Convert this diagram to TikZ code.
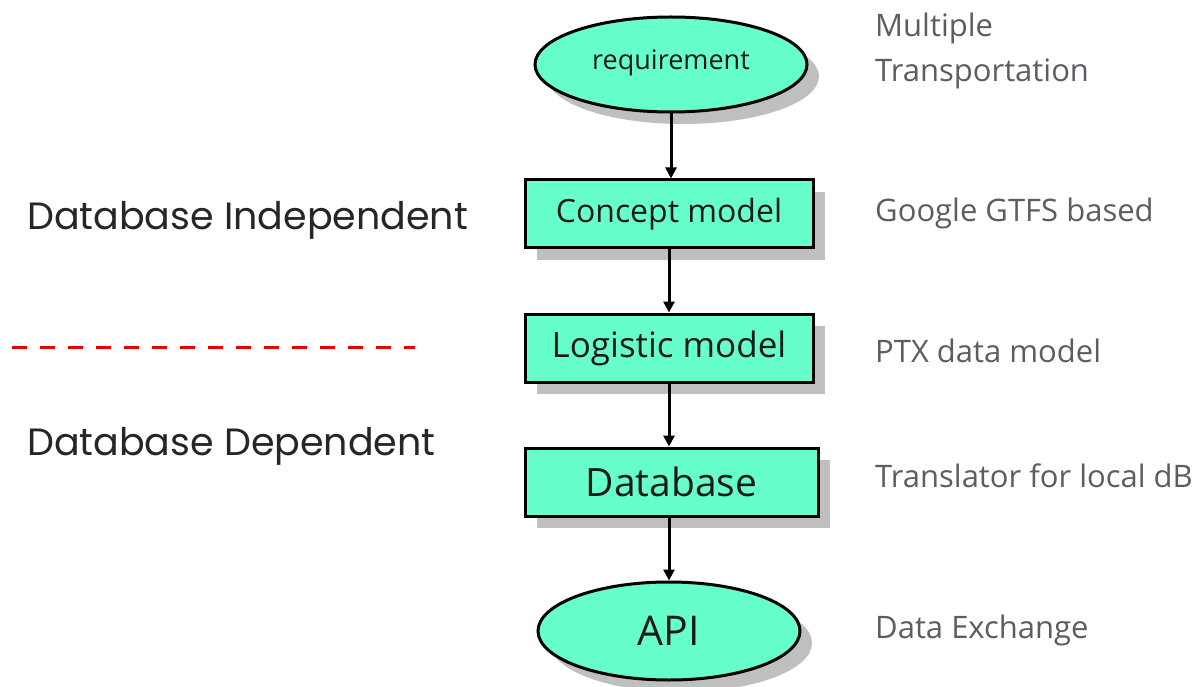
\documentclass[tikz,border=0pt]{standalone}
\usepackage{fontspec}
\setmainfont{Open Sans}
\newfontfamily\labelfont{Poppins}
\usetikzlibrary{shapes.geometric,shadows,arrows.meta}
\definecolor{mint}{HTML}{66FFCC}
\definecolor{shade}{HTML}{BFBFBF}
\definecolor{notegray}{HTML}{5A5E63}
\definecolor{divred}{HTML}{E60000}
\tikzset{
  stage/.style={draw=black, line width=3pt, fill=mint, inner sep=0pt, text=black!90,
    drop shadow={shadow xshift=12pt, shadow yshift=-12pt, fill=shade, opacity=1}},
  boxstage/.style={stage, rectangle, minimum height=68pt},
  ovalstage/.style={stage, ellipse},
  flow/.style={line width=3pt, -{Triangle[length=11pt,width=11pt]}},
  note/.style={anchor=base west, text=notegray, font=\fontsize{31}{35}\selectfont, inner sep=0pt},
  side/.style={anchor=base west, font=\labelfont\fontsize{38}{44}\selectfont, text=black!85, inner sep=0pt},
}
\begin{document}
\begin{tikzpicture}[x=1pt, y=-1pt]
  \path[use as bounding box, fill=white] (0,0) rectangle (1200,687);

  % main chain of stages
  \node[ovalstage, minimum width=272pt, minimum height=95pt, font=\fontsize{27}{30}\selectfont] (req) at (671,64.5) {\raisebox{10pt}{requirement}};
  \node[boxstage, minimum width=288pt, font=\fontsize{32}{36}\selectfont] (concept) at (669,214) {Concept model};
  \node[boxstage, minimum width=288pt, font=\fontsize{35}{38}\selectfont] (logic) at (669,348) {Logistic model};
  \node[boxstage, minimum width=293pt, font=\fontsize{39}{42}\selectfont] (db) at (671.5,482) {Database};
  \node[ovalstage, minimum width=262pt, minimum height=98pt, font=\fontsize{41}{44}\selectfont] (api) at (669,631) {API};

  % connectors
  \draw[flow] (req.south) -- (req.south |- concept.north);
  \draw[flow] (concept.south) -- (concept.south |- logic.north);
  \draw[flow] (logic.south) -- (logic.south |- db.north);
  \draw[flow] (db.south -| logic.south) -- (logic.south |- api.north);

  % notes on the right
  \node[note] (multi1) at (875,37) {Multiple};
  \node[note] (multi2) at (875,82) {Transportation};
  \node[note] (gtfs) at (875,222) {Google GTFS based};
  \node[note] (ptx) at (875,362) {PTX data model};
  \node[note] (trans) at (875,487) {Translator for local dB};
  \node[note] (exch) at (875,638) {Data Exchange};

  % database split on the left
  \node[side] (indep) at (27,230) {Database Independent};
  \node[side] (dep) at (27,455) {Database Dependent};
  \draw[divred, line width=3pt, dash pattern=on 15pt off 13pt] (12,347) -- (415,347);
\end{tikzpicture}
\end{document}
